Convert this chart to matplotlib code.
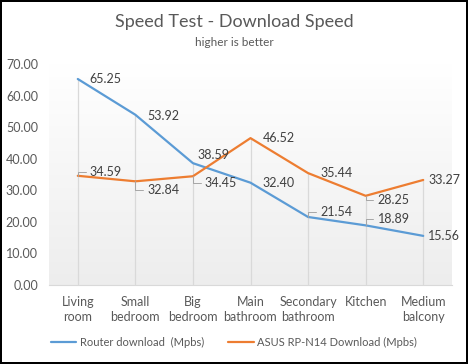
import numpy as np
import matplotlib
matplotlib.use("Agg")
import matplotlib.pyplot as plt

plt.rcParams['font.family'] = ['Lato', 'DejaVu Sans']

rooms = ['Living\nroom', 'Small\nbedroom', 'Big\nbedroom', 'Main\nbathroom',
         'Secondary\nbathroom', 'Kitchen', 'Medium\nbalcony']
router = [65.25, 53.92, 38.59, 32.40, 21.54, 18.89, 15.56]
asus = [34.59, 32.84, 34.45, 46.52, 35.44, 28.25, 33.27]
yticks = [0, 10, 20, 30, 40, 50, 60, 70]

# label offsets in pixels (dx, dy up) and whether a leader line is drawn
router_off = [(12, 0), (12, -1), (5, 8), (12, 0), (12, 5), (12, 6), (5, 0)]
router_lead = [False, False, False, False, True, True, False]
asus_off = [(12, 4), (12, -9), (12, -7), (12, 0), (12, 0), (12, -4), (5, 0)]
asus_lead = [True, True, True, False, False, True, False]

blue = '#5B9BD5'
orange = '#ED7D31'
txt = '#595959'

fig = plt.figure(figsize=(4.68, 3.64), dpi=100)
fig.patch.set_facecolor('white')
fig.patch.set_edgecolor('black')
fig.patch.set_linewidth(1.5)

ax = fig.add_axes([49 / 468, 1 - 285 / 364, 403 / 468, 221 / 364])
x = np.arange(len(rooms))
ax.set_xlim(-0.5, len(rooms) - 0.5)
ax.set_ylim(0, 70)

# gradient plot area
grad = np.linspace(0.93, 1.0, 256).reshape(-1, 1)
ax.imshow(np.dstack([grad] * 3), extent=[-0.5, len(rooms) - 0.5, 0, 70],
          aspect='auto', origin='lower', zorder=0)

# drop lines
top = np.maximum(router, asus)
ax.vlines(x, 0, top, color='#d9d9d9', lw=0.9, zorder=1)

ax.plot(x, router, color=blue, lw=1.6, zorder=3, solid_capstyle='round',
        label='Router download  (Mpbs)')
ax.plot(x, asus, color=orange, lw=1.6, zorder=3, solid_capstyle='round',
        label='ASUS RP-N14 Download (Mpbs)')

px = 72 / 100  # points per pixel


def label(vals, offs, leads):
    for xi, v, (dx, dy), lead in zip(x, vals, offs, leads):
        kw = {}
        if lead:
            kw['arrowprops'] = dict(arrowstyle='-', color='#a6a6a6', lw=0.7,
                                    shrinkA=1, shrinkB=0,
                                    connectionstyle='angle,angleA=0,angleB=90,rad=0')
        ax.annotate(f'{v:.2f}', (xi, v), xytext=(dx * px, dy * px),
                    textcoords='offset points', ha='left', va='center',
                    fontsize=9, color='#404040', zorder=4, **kw)


label(router, router_off, router_lead)
label(asus, asus_off, asus_lead)

ax.set_yticks(yticks)
ax.set_yticklabels([f'{t:.2f}' for t in yticks])
ax.set_xticks(x)
ax.set_xticklabels(rooms, linespacing=1.25)
ax.tick_params(axis='both', length=0, colors=txt, labelsize=9)
ax.tick_params(axis='y', pad=8)
ax.tick_params(axis='x', pad=8)
for s in ['top', 'right', 'left']:
    ax.spines[s].set_visible(False)
ax.spines['bottom'].set_color('#d9d9d9')

fig.text(0.5, 1 - 22 / 364, 'Speed Test - Download Speed', ha='center',
         va='center', fontsize=13, color=txt)
fig.text(0.5, 1 - 42 / 364, 'higher is better', ha='center', va='center',
         fontsize=8.5, color=txt)

fig.legend(loc='center', bbox_to_anchor=(0.5, 1 - 342 / 364), ncol=2,
           frameon=False, fontsize=8, labelcolor=txt, handlelength=2.3,
           handletextpad=0.3, columnspacing=2.2)

fig.savefig('out.png', dpi=100)
